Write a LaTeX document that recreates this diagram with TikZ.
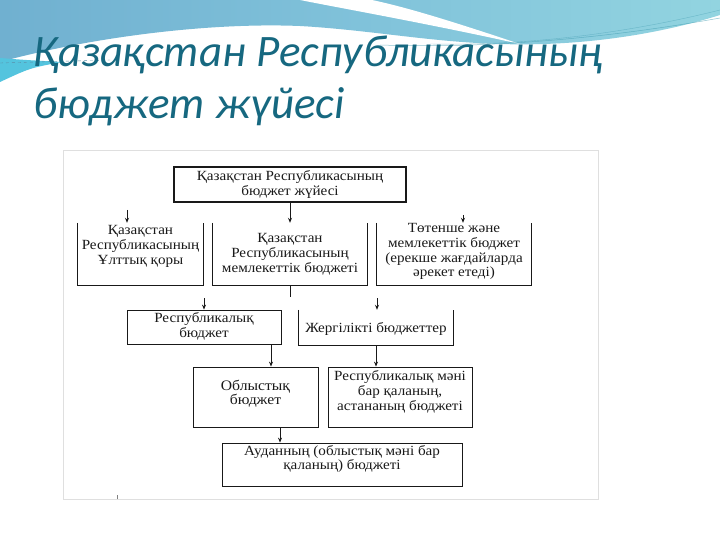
\documentclass[tikz,border=0pt]{standalone}
\usepackage{fontspec}
\setmainfont{Liberation Serif}
\newfontfamily\titlefont{Carlito}
\newfontfamily\diafont[FakeStretch=1.08]{Liberation Serif}
\usetikzlibrary{arrows.meta}
\definecolor{titlecol}{RGB}{22,104,128}
\definecolor{waveL}{RGB}{112,176,208}
\definecolor{waveM}{RGB}{128,194,218}
\definecolor{waveR}{RGB}{146,212,224}
\definecolor{waveC}{RGB}{84,196,222}
\definecolor{inkcol}{RGB}{25,25,25}
\begin{document}
\begin{tikzpicture}[x=1pt,y=-1pt,
  box/.style={draw=inkcol, line width=0.8pt, inner sep=0pt},
  ubox/.style={inner sep=0pt},
  uline/.style={draw=inkcol, line width=0.8pt},
  txt/.style={font=\diafont\fontsize{14}{15}\selectfont, align=center, inner sep=0pt, text=inkcol, anchor=north},
  arr/.style={draw=inkcol, line width=0.8pt, -{Stealth[length=5pt,width=4pt]}},
  plain/.style={draw=inkcol, line width=0.8pt},
  ttl/.style={font=\titlefont\itshape\fontsize{45}{50}\selectfont, text=titlecol, inner sep=0pt, anchor=base west}
]
\useasboundingbox (0,0) rectangle (720,540);
\fill[white] (0,0) rectangle (720,540);
% background wave
\shade[left color=waveL, right color=waveR, middle color=waveM]
  (0,0) -- (720,0) -- (720,15)
  .. controls (640,40) and (560,46) .. (500,44)
  .. controls (430,42) and (370,30) .. (300,26)
  .. controls (200,22) and (80,40) .. (0,62) -- cycle;
\fill[white] (300,0) .. controls (340,8) and (430,24) .. (520,44)
  .. controls (460,24) and (410,8) .. (372,0) -- cycle;
\fill[waveC] (0,58) .. controls (25,60) .. (62,62) .. controls (30,68) .. (0,82) -- cycle;
\draw[waveL!80!black, line width=0.4pt, dashed] (0,63) -- (110,60);
\draw[waveC!80!black, line width=0.5pt, opacity=0.6] (380,45) .. controls (500,49) and (620,36) .. (720,18);
\draw[waveC!80!black, line width=0.4pt, opacity=0.5] (430,44) .. controls (540,46) and (640,30) .. (720,10);
% title
\node[ttl] (t1) at (33,67) {Қазақстан Республикасының};
\node[ttl] (t2) at (33,119) {бюджет жүйесі};
% diagram frame
\node[draw=gray!25, fill=white, minimum width=535, minimum height=349, inner sep=0pt] (frame) at (330.5,324.5) {};
% boxes
\node[box, line width=1.6pt, minimum width=232, minimum height=35] (top) at (290,184.5) {};
\node[txt] (topt) at (290,170.5) {Қазақстан Республикасының\\бюджет жүйесі};

\node[ubox, minimum width=125, minimum height=62] (nf) at (140.5,254) {};
\draw[uline] (nf.north west) -- (nf.south west) -- (nf.south east) -- (nf.north east);
\node[txt] (nft) at (140.5,225.5) {Қазақстан\\Республикасының\\Ұлттық қоры};

\node[ubox, minimum width=154, minimum height=62] (mid) at (290,254) {};
\draw[uline] (mid.north west) -- (mid.south west) -- (mid.south east) -- (mid.north east);
\node[txt] (midt) at (290,233.5) {Қазақстан\\Республикасының\\мемлекеттік бюджеті};

\node[ubox, minimum width=154, minimum height=62] (em) at (454,254) {};
\draw[uline] (em.north west) -- (em.south west) -- (em.south east) -- (em.north east);
\node[txt, font=\diafont\fontsize{14}{14.6}\selectfont] (emt) at (454,223.5) {Төтенше және\\мемлекеттік бюджет\\(ерекше жағдайларда\\әрекет етеді)};

\node[box, minimum width=154, minimum height=34] (rep) at (204,327) {};
\node[txt] (rept) at (204,312.5) {Республикалық\\бюджет};

\node[ubox, minimum width=154, minimum height=35] (loc) at (376,327.5) {};
\draw[uline] (loc.north west) -- (loc.south west) -- (loc.south east) -- (loc.north east);
\node[txt] (loct) at (376,322.5) {Жергілікті бюджеттер};

\node[box, minimum width=125, minimum height=60] (ob) at (255.5,397) {};
\node[txt, font=\diafont\fontsize{14.5}{14}\selectfont] (obt) at (255.5,379.5) {Облыстық\\бюджет};

\node[box, minimum width=144, minimum height=60] (rc) at (400,397) {};
\node[txt] (rct) at (400,370.5) {Республикалық мәні\\бар қаланың,\\астананың бюджеті};

\node[box, minimum width=240, minimum height=43] (aud) at (342,464.5) {};
\node[txt, font=\diafont\fontsize{14}{13.5}\selectfont] (audt) at (342,445.5) {Ауданның (облыстық мәні бар\\қаланың) бюджеті};

% connectors
\coordinate (nfin) at (127,210);
\draw[arr] (nfin) -- (nfin |- nf.north);
\draw[arr] (top.south) -- (mid.north);
\coordinate (emin) at (463,215);
\draw[arr] (emin) -- (emin |- em.north);
\coordinate (stub) at (290,297);
\draw[plain] (mid.south) -- (stub);
\coordinate (repin) at (204,298);
\draw[arr] (repin) -- (rep.north);
\coordinate (locin) at (377,298);
\draw[arr] (locin) -- (locin |- loc.north);
\coordinate (c6) at (271,0);
\draw[arr] (rep.south -| c6) -- (ob.north -| c6);
\coordinate (c7) at (376,0);
\draw[arr] (loc.south -| c7) -- (rc.north -| c7);
\coordinate (c8) at (280,0);
\draw[arr] (ob.south -| c8) -- (aud.north -| c8);
\coordinate (tk1) at (117,495);
\coordinate (tk2) at (117,499);
\draw[gray, line width=0.6pt] (tk1) -- (tk2);
\end{tikzpicture}
\end{document}
